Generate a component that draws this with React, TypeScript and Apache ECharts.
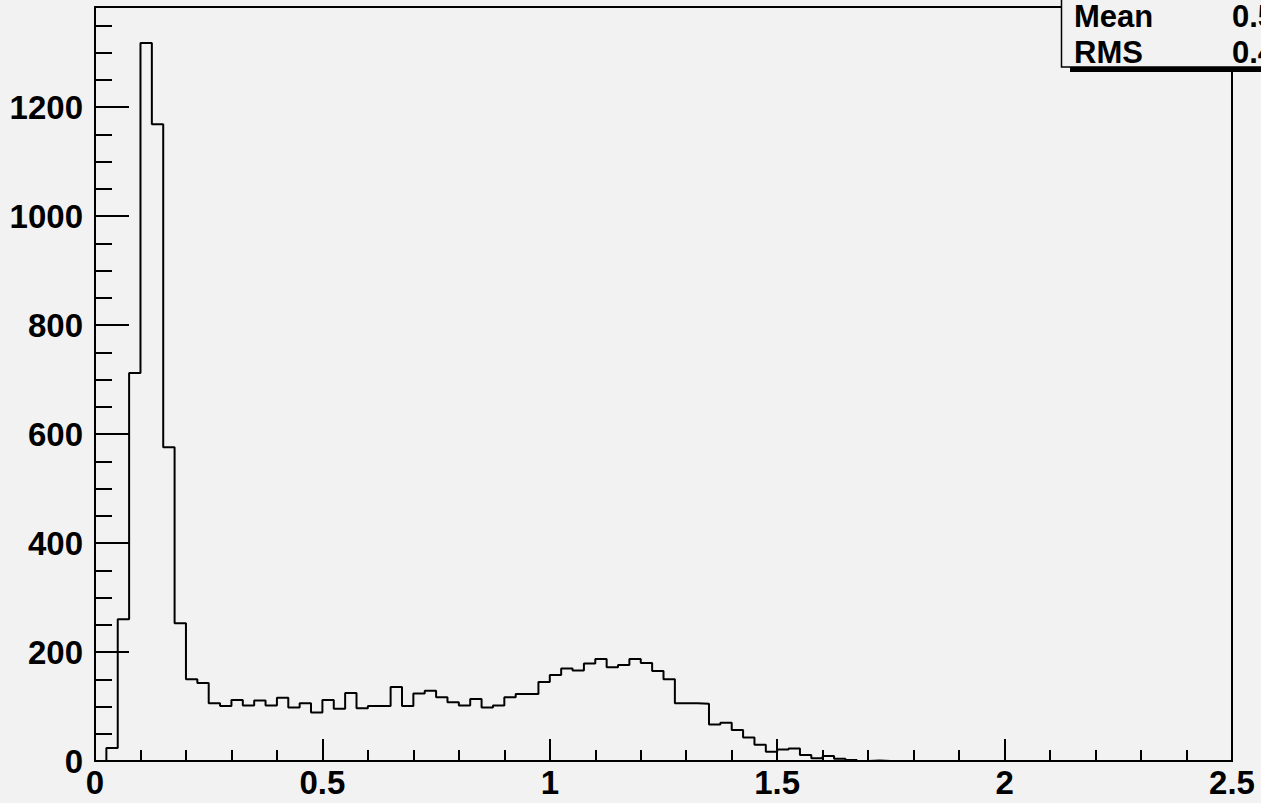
import React, { useEffect, useRef } from "react";
import * as echarts from "echarts";

const BIN_WIDTH = 0.025;
const X_MAX = 2.5;
const Y_MAX = 1384;
const X_TICKS = [0, 0.5, 1, 1.5, 2, 2.5];
const Y_TICKS = [0, 200, 400, 600, 800, 1000, 1200];
const COUNTS = [
  0, 24, 260, 712, 1318, 1169, 576, 253, 150, 143,
  106, 101, 112, 102, 111, 102, 116, 98, 106, 89,
  112, 96, 125, 97, 101, 101, 136, 101, 124, 129,
  117, 108, 102, 114, 98, 102, 117, 123, 123, 145,
  158, 170, 166, 179, 187, 172, 176, 187, 180, 165,
  150, 106, 106, 105, 67, 70, 57, 43, 30, 17,
  21, 23, 11, 5, 9, 4, 2, 0, 1, 0,
  0, 0, 0, 0, 0, 0, 0, 0, 0, 0,
  0, 0, 0, 0, 0, 0, 0, 0, 0, 0,
  0, 0, 0, 0, 0, 0, 0, 0, 0, 0,
];
const STAT_LABELS = ["Mean", "RMS"];
const STAT_VALUES = ["0.5", "0.4"];
const STAT_ROWS_Y = [16, 52];

const FONT = "'Liberation Sans', Arial, Helvetica, sans-serif";
const BG = "#f2f2f2";

export default function App() {
  const ref = useRef<HTMLDivElement>(null);
  useEffect(() => {
    if (!ref.current) return;
    const chart = echarts.init(ref.current, null, { renderer: "svg" });
    const data: number[][] = COUNTS.map((c, i) => [i * BIN_WIDTH, c]);
    data.push([X_MAX, COUNTS[COUNTS.length - 1]]);

    const labelStyle = {
      fontFamily: FONT,
      fontWeight: "bold" as const,
      fontSize: 33,
      color: "#000",
    };

    const statText = (t: string, x: number, y: number) => ({
      type: "text",
      z: 102,
      x,
      y,
      style: {
        text: t,
        fontFamily: FONT,
        fontWeight: "bold",
        fontSize: 31,
        lineHeight: 30,
        fill: "#000",
        verticalAlign: "middle",
        align: "left",
      },
    });

    chart.setOption({
      animation: false,
      backgroundColor: BG,
      grid: {
        left: 95,
        right: 29,
        top: 7,
        bottom: 42,
        show: true,
        borderColor: "#000",
        borderWidth: 2,
        backgroundColor: "transparent",
      },
      xAxis: {
        type: "value",
        min: 0,
        max: X_MAX,
        interval: 0.5,
        axisLine: { show: true, lineStyle: { color: "#000", width: 2 } },
        axisTick: { show: true, inside: true, length: 22, lineStyle: { color: "#000", width: 2 } },
        minorTick: { show: true, splitNumber: 5, length: 11, lineStyle: { color: "#000", width: 2 } },
        splitLine: { show: false },
        axisLabel: {
          ...labelStyle,
          margin: 5,
          formatter: (v: number) => (X_TICKS.some((t) => Math.abs(t - v) < 1e-9) ? String(v) : ""),
        },
      },
      yAxis: [
        {
          type: "value",
          min: 0,
          max: Y_MAX,
          interval: 200,
          position: "left",
          axisLine: { show: true, lineStyle: { color: "#000", width: 2 } },
          axisTick: { show: true, inside: true, length: 34, lineStyle: { color: "#000", width: 2 } },
          splitLine: { show: false },
          axisLabel: {
            ...labelStyle,
            margin: 12,
            formatter: (v: number) => (Y_TICKS.indexOf(v) >= 0 ? String(v) : ""),
          },
        },
        {
          type: "value",
          min: 0,
          max: Y_MAX,
          interval: 50,
          position: "left",
          offset: 0,
          axisLine: { show: false },
          axisTick: { show: true, inside: true, length: 17, lineStyle: { color: "#000", width: 2 } },
          splitLine: { show: false },
          axisLabel: { show: false },
        },
      ],
      series: [
        {
          type: "line",
          step: "end",
          data,
          yAxisIndex: 0,
          showSymbol: false,
          symbol: "none",
          lineStyle: { color: "#000", width: 2 },
          z: 5,
        },
      ],
      graphic: [
        {
          type: "rect",
          z: 100,
          shape: { x: 1070, y: -10, width: 300, height: 82 },
          style: { fill: "#000" },
        },
        {
          type: "rect",
          z: 101,
          shape: { x: 1061.5, y: -10, width: 300, height: 77 },
          style: { fill: BG, stroke: "#000", lineWidth: 1.5 },
        },
        ...STAT_LABELS.map((t, i) => statText(t, 1074, STAT_ROWS_Y[i])),
        ...STAT_VALUES.map((t, i) => statText(t, 1232, STAT_ROWS_Y[i])),
      ],
    });
    return () => chart.dispose();
  }, []);
  return (
    <div
      ref={ref}
      style={{ position: "absolute", left: 0, top: 0, width: 1261, height: 803 }}
    />
  );
}
